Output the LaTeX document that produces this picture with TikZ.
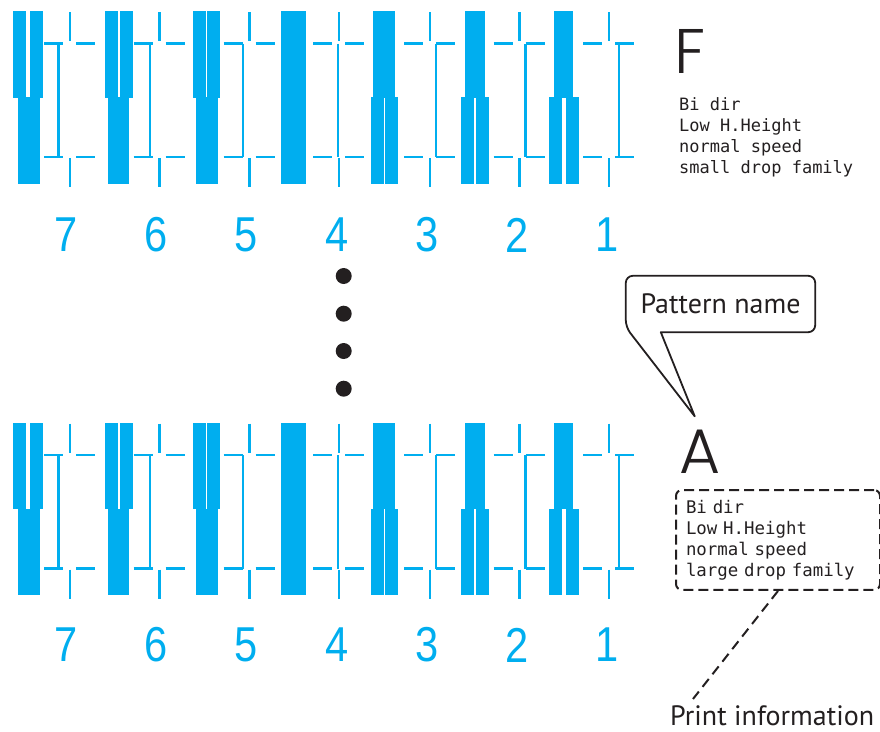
\documentclass[tikz,border=0pt]{standalone}
\usepackage{fontspec}
\usepackage{graphicx}
\setmainfont{PT Sans}
\newfontfamily\digitfont{Liberation Sans}
\newfontfamily\geofont{Poppins Light}
\newfontfamily\codefont{DejaVu Sans Mono}
\definecolor{inkcyan}{HTML}{00AEEF}
\definecolor{ink}{HTML}{231F20}

\begin{document}
\begin{tikzpicture}[x=1pt,y=-1pt,
  guide/.style={draw=inkcyan,line width=2.4pt},
  digit/.style={inner sep=0pt,text=inkcyan,font=\digitfont\fontsize{49}{49}\selectfont},
  letter/.style={inner sep=0pt,text=ink,font=\geofont\fontsize{63}{63}\selectfont},
  infotext/.style={inner sep=0pt,text=ink,align=left,font=\codefont\fontsize{17}{21}\selectfont},
  infobox/.style={infotext,draw=ink,line width=2pt,dash pattern=on 10pt off 5pt,rounded corners=6pt,
    inner xsep=10pt,inner ysep=10pt,text width=184pt,font=\codefont\fontsize{17.4}{21}\selectfont},
  callname/.style={inner sep=0pt,text=ink,font=\fontsize{28}{28}\selectfont},
  balloon/.style={draw=ink,line width=1.8pt,line join=round},
  leader/.style={draw=ink,line width=2pt,dash pattern=on 10pt off 6pt}]
\useasboundingbox (0,0) rectangle (880,731);

\foreach \dy in {0,411.5}{
  \foreach \a/\b in {13/26,30/43,105/118,120/133,193/206,207/220,373/395,465/485,554/573}
    \fill[inkcyan] (\a,11+\dy) rectangle (\b,97.5+\dy);
  \foreach \a/\b in {18/40,108/129,196/218,371/384,385/398,461/474,476/489,549/562,566/579}
    \fill[inkcyan] (\a,97+\dy) rectangle (\b,183.5+\dy);
  \fill[inkcyan] (281,11+\dy) rectangle (306,183.5+\dy);
  \foreach \t/\k in {70/58.5,159.5/150,249.5/243,339/338,430/436,519.5/525.5,609/619}{
    \draw[guide] (\t,12+\dy) -- (\t,41+\dy);
    \draw[guide] (\t,158+\dy) -- (\t,187+\dy);
    \draw[guide] (\t-26,43.5+\dy) -- (\t-7,43.5+\dy);
    \draw[guide] (\t+6,43.5+\dy) -- (\t+25,43.5+\dy);
    \draw[guide] (\t-26,157+\dy) -- (\t-7,157+\dy);
    \draw[guide] (\t+6,157+\dy) -- (\t+25,157+\dy);
    \draw[guide] (\k,43.5+\dy) -- (\k,157+\dy);
  }
}

\foreach \x/\n in {66.5/7,156/6,246.5/5,337/4,427.5/3,517/2,607/1}{
  \node[digit] (top\n) at (\x,235) {\scalebox{0.85}[1]{\n}};
  \node[digit] (low\n) at (\x,645) {\scalebox{0.85}[1]{\n}};
}

\foreach \y in {276,313.7,351,388.7}
  \fill[ink] (343.7,\y) circle (8pt);

\node[letter,anchor=base west] (nameF) at (674,73) {F};
\node[infotext,anchor=north west] (infoF) at (679,97) {Bi dir\\Low H.Height\\normal speed\\small drop family};

\node[letter,anchor=base west] (nameA) at (679,473) {A};
\node[infobox,anchor=north west] (info) at (675,489) {Bi dir\\Low H.Height\\normal speed\\large drop family};

\node[callname,minimum width=189pt,minimum height=56pt] (pname) at (720.5,304) {Pattern name};
\draw[balloon] ([xshift=35pt]pname.south west) [rounded corners=7pt] -- (pname.south east)
  -- (pname.north east) -- (pname.north west) -- ([yshift=5pt]pname.south west)
  [sharp corners] -- ([xshift=-5pt,yshift=13pt]nameA.north) -- cycle;

\node[callname,anchor=base west] (printinfo) at (670,725) {Print information};
\draw[leader] (info.south) -- ([xshift=23pt,yshift=6pt]printinfo.north west);
\end{tikzpicture}
\end{document}
